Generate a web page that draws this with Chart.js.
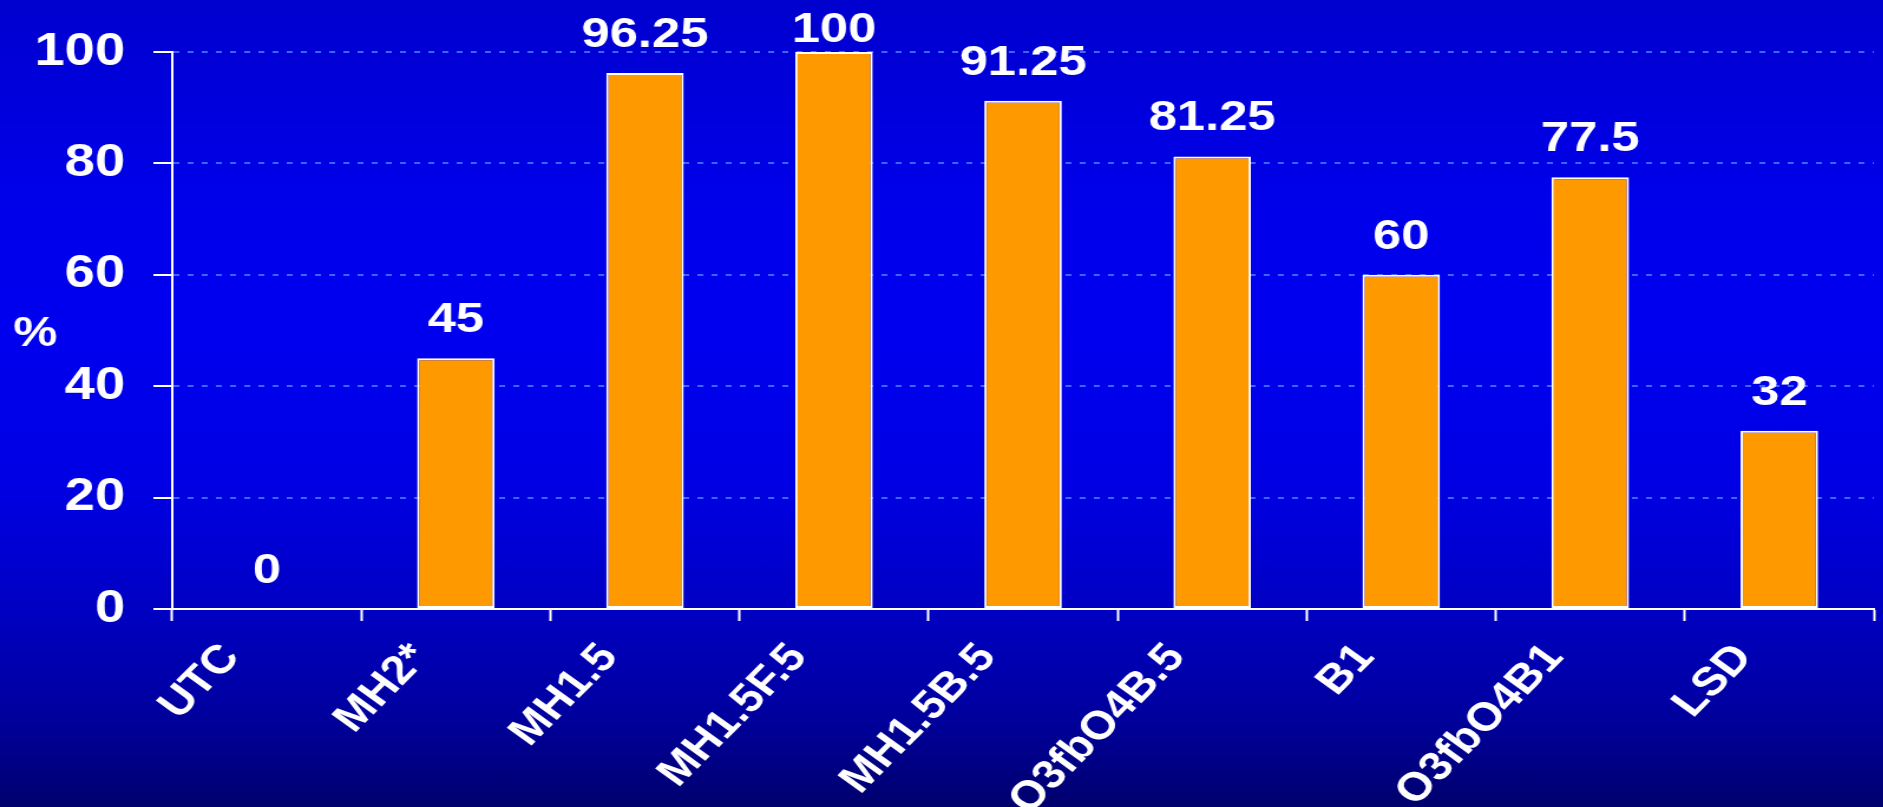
<!DOCTYPE html>
<html>
<head>
<meta charset="utf-8">
<script src="https://cdn.jsdelivr.net/npm/chart.js@4"></script>
<style>
  html, body { margin: 0; padding: 0; width: 1883px; height: 807px; overflow: hidden; }
  body {
    background: linear-gradient(to bottom, #0000CF 0%, #0000EA 25%, #0000F0 40%, #0000E4 60%, #0000C4 75%, #0000A0 88%, #00006E 100%);
  }
  /* the slide artwork is stretched horizontally, so the drawing is widened the same way */
  #wrap { width: 1596px; height: 807px; transform: scaleX(1.18); transform-origin: 0 0; }
</style>
</head>
<body>
<div id="wrap"><canvas id="c" width="1596" height="807"></canvas></div>
<script>
const categories = ['UTC', 'MH2*', 'MH1.5', 'MH1.5F.5', 'MH1.5B.5', 'O3fbO4B.5', 'B1', 'O3fbO4B1', 'LSD'];
const percentValues = [0, 45, 96.25, 100, 91.25, 81.25, 60, 77.5, 32];
const yTickValues = [0, 20, 40, 60, 80, 100];
const yAxisTitle = '%';

const FONT = "'Liberation Sans', Arial, sans-serif";
const STRETCH = 1.18;
// rotation before widening that ends up at 45 degrees on screen
const LABEL_ROTATION = Math.atan(STRETCH) * 180 / Math.PI;

// value labels above each bar (kept inside the canvas at the top)
const valueLabels = {
  id: 'valueLabels',
  afterDatasetsDraw(chart) {
    const ctx = chart.ctx;
    const meta = chart.getDatasetMeta(0);
    ctx.save();
    ctx.fillStyle = '#FFFFFF';
    ctx.font = 'bold 43px ' + FONT;
    ctx.textAlign = 'center';
    ctx.textBaseline = 'alphabetic';
    meta.data.forEach((bar, i) => {
      ctx.fillText(String(percentValues[i]), bar.x, Math.max(bar.y - 26, 42));
    });
    ctx.restore();
  }
};

// horizontal "%" title left of the value axis
const axisTitle = {
  id: 'axisTitle',
  afterDraw(chart) {
    const ctx = chart.ctx;
    const y = chart.scales.y;
    ctx.save();
    ctx.fillStyle = '#FFFFFF';
    ctx.font = 'bold 42px ' + FONT;
    ctx.textAlign = 'center';
    ctx.textBaseline = 'middle';
    ctx.fillText(yAxisTitle, 30, (y.top + y.bottom) / 2 + 4);
    ctx.restore();
  }
};

new Chart(document.getElementById('c'), {
  type: 'bar',
  data: {
    labels: categories,
    datasets: [{
      data: percentValues,
      backgroundColor: '#FF9900',
      borderColor: '#FFFFFF',
      borderWidth: 2,
      borderSkipped: false,
      categoryPercentage: 1,
      barPercentage: 0.41
    }]
  },
  options: {
    responsive: false,
    animation: false,
    devicePixelRatio: 1,
    layout: { padding: { top: 52, right: 8, left: 0, bottom: 0 } },
    plugins: { legend: { display: false }, tooltip: { enabled: false } },
    scales: {
      x: {
        afterFit(scale) { scale.height = 198; },
        grid: {
          drawOnChartArea: false,
          drawTicks: true,
          tickLength: 12,
          tickColor: '#FFFFFF',
          tickWidth: 2,
          color: '#FFFFFF'
        },
        border: { display: true, color: '#FFFFFF', width: 2 },
        ticks: {
          autoSkip: false,
          maxRotation: LABEL_ROTATION,
          minRotation: LABEL_ROTATION,
          padding: 14,
          labelOffset: -30,
          color: '#FFFFFF',
          font: { family: FONT, size: 40, weight: 'bold' }
        }
      },
      y: {
        min: 0,
        max: 100,
        afterFit(scale) { scale.width = 146; },
        afterBuildTicks(scale) { scale.ticks = yTickValues.map(v => ({ value: v })); },
        grid: {
          color: '#3868FF',
          lineWidth: 2,
          drawTicks: true,
          tickLength: 16,
          tickColor: '#FFFFFF',
          tickWidth: 2,
          tickBorderDash: []
        },
        border: { display: true, color: '#FFFFFF', width: 2, dash: [5, 7] },
        ticks: {
          padding: 24,
          color: '#FFFFFF',
          font: { family: FONT, size: 46, weight: 'bold' }
        }
      }
    }
  },
  plugins: [valueLabels, axisTitle]
});
</script>
</body>
</html>
